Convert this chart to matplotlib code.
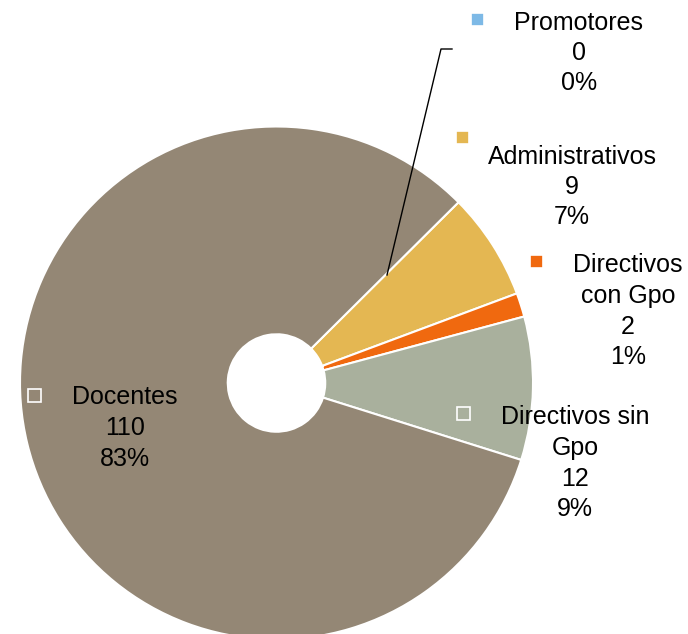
"""
Donut chart: personal por tipo (Docentes, Directivos, Administrativos, Promotores).
"""

import matplotlib.pyplot as plt
from matplotlib.patches import Rectangle

# datos
categorias = ["Promotores", "Administrativos", "Directivos con Gpo",
              "Directivos sin Gpo", "Docentes"]
valores = [0, 9, 2, 12, 110]
porcentajes = ["0%", "7%", "1%", "9%", "83%"]
colores = ["#7DB9E6", "#E4B752", "#F0690F", "#A9B09D", "#948775"]

# texto de cada etiqueta (nombre partido en lineas como en el original)
nombres_lineas = [
    ["Promotores"],
    ["Administrativos"],
    ["Directivos", "con Gpo"],
    ["Directivos sin", "Gpo"],
    ["Docentes"],
]

W, H = 688, 634

# posicion de las etiquetas en pixeles (x centro, y de la primera linea)
label_pos = [(579, 20), (572, 154), (628, 263), (575, 415), (125, 395)]
key_pos = [(477, 19), (462, 137), (536, 261), (463, 413), (34, 395)]
line_step = 30.5


def fy(y):
    return H - y


plt.rcParams["font.family"] = ["Liberation Sans", "DejaVu Sans"]

fig = plt.figure(figsize=(W / 100, H / 100), dpi=100)
ax = fig.add_axes([0, 0, 1, 1])

radius = 256.5
ax.pie(
    valores,
    colors=colores,
    startangle=44.8,
    counterclock=False,
    center=(276.5, fy(383)),
    radius=radius,
    wedgeprops=dict(width=radius * 0.81, edgecolor="white", linewidth=1.5),
    frame=True,
)
ax.set_xlim(0, W)
ax.set_ylim(0, H)
ax.set_aspect("equal")
ax.axis("off")

# linea guia de Promotores
ax.plot([387, 441, 452], [fy(275), fy(49), fy(49)], color="black", lw=1)

for i, nombre in enumerate(categorias):
    lineas = nombres_lineas[i] + [str(valores[i]), porcentajes[i]]
    x0, y0 = label_pos[i]
    for k, txt in enumerate(lineas):
        ax.text(x0, fy(y0 + k * line_step), txt, ha="center",
                va="center_baseline", fontsize=18, color="black")
    kx, ky = key_pos[i]
    ax.add_patch(Rectangle((kx - 6.5, fy(ky) - 6.5), 13, 13,
                           facecolor=colores[i], edgecolor="white", lw=1.2))

fig.savefig("out.png", dpi=100)
